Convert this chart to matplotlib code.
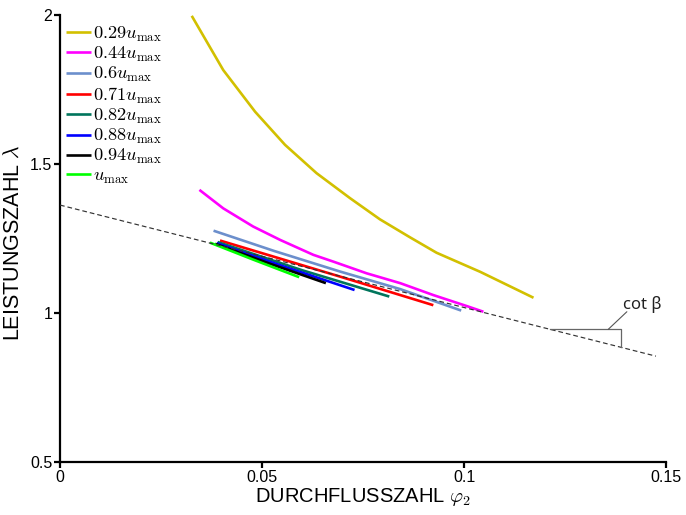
import numpy as np
import matplotlib
matplotlib.use("Agg")
import matplotlib.pyplot as plt

plt.rcParams["font.family"] = ["Liberation Sans", "DejaVu Sans"]
plt.rcParams["mathtext.fontset"] = "cm"

# ── Kennlinien: Durchflusszahl phi_2 vs. Leistungszahl lambda ────────────────

LABELS = [r"$0.29u_{\max}$", r"$0.44u_{\max}$", r"$0.6u_{\max}$", r"$0.71u_{\max}$",
          r"$0.82u_{\max}$", r"$0.88u_{\max}$", r"$0.94u_{\max}$", r"$u_{\max}$"]
COLORS = ["#d2c000", "#ff00ff", "#6c8fcc", "#ff0000",
          "#00755c", "#0000ff", "#000000", "#00ff00"]

PHI_029 = [0.0326, 0.0404, 0.0483, 0.0557, 0.0635, 0.0718, 0.0792, 0.0866, 0.0932, 0.1040, 0.1172]
LAM_029 = [1.997, 1.815, 1.675, 1.564, 1.469, 1.385, 1.314, 1.254, 1.202, 1.138, 1.051]

PHI_044 = [0.0345, 0.0404, 0.0478, 0.0545, 0.0627, 0.0677, 0.0759, 0.0842, 0.0924, 0.1007, 0.1048]
LAM_044 = [1.413, 1.351, 1.290, 1.245, 1.195, 1.172, 1.133, 1.100, 1.060, 1.023, 1.004]

PHI_060 = [0.0380, 0.0530, 0.0693, 0.0842, 0.0993]
LAM_060 = [1.276, 1.208, 1.139, 1.080, 1.008]

PHI_071 = [0.0396, 0.0693, 0.0924]
LAM_071 = [1.243, 1.122, 1.026]

PHI_082 = [0.0390, 0.0600, 0.0815]
LAM_082 = [1.238, 1.143, 1.055]

PHI_088 = [0.0388, 0.0560, 0.0729]
LAM_088 = [1.234, 1.153, 1.077]

PHI_094 = [0.0384, 0.0520, 0.0658]
LAM_094 = [1.232, 1.165, 1.100]

PHI_100 = [0.0371, 0.0480, 0.0592]
LAM_100 = [1.236, 1.178, 1.120]

SERIES = [(PHI_029, LAM_029), (PHI_044, LAM_044), (PHI_060, LAM_060), (PHI_071, LAM_071),
          (PHI_082, LAM_082), (PHI_088, LAM_088), (PHI_094, LAM_094), (PHI_100, LAM_100)]

# Ausgleichsgerade (Steigung = -cot beta)
REF_PHI = [0.0, 0.1475]
REF_LAM = [1.362, 0.855]

# Steigungsdreieck an der Geraden
COT_PHI = [0.1213, 0.1388]

# ── Figure ───────────────────────────────────────────────────────────────────

fig = plt.figure(figsize=(6.86, 5.15), dpi=100, facecolor="white")
ax = fig.add_axes([0.0875, 0.103, 0.8834, 0.868])

for (phi, lam), col, lab in zip(SERIES, COLORS, LABELS):
    ax.plot(phi, lam, color=col, linewidth=1.9, label=lab, solid_capstyle="butt", zorder=2)

ax.plot(REF_PHI, REF_LAM, color="#333333", linewidth=0.85, linestyle=(0, (4, 2.5)), zorder=3)

# cot beta Markierung
y0 = float(np.interp(COT_PHI[0], REF_PHI, REF_LAM))
y1 = float(np.interp(COT_PHI[1], REF_PHI, REF_LAM))
ax.plot([COT_PHI[0], COT_PHI[1], COT_PHI[1]], [y0, y0, y1],
        color="#666666", linewidth=0.9, zorder=3)
ax.annotate("", xy=(COT_PHI[1] - 0.0031, y0), xytext=(0.1403, 1.004),
            arrowprops=dict(arrowstyle="-", color="#555555", lw=0.8, shrinkA=0, shrinkB=0))
ax.text(0.1394, 1.013, "cot β", family=["Noto Sans", "DejaVu Sans"], fontsize=12,
        color="#222222", ha="left", va="baseline")

ax.set_xlim(0, 0.15)
ax.set_ylim(0.5, 2.0)
ax.set_xticks([0, 0.05, 0.1, 0.15])
ax.set_xticklabels(["0", "0.05", "0.1", "0.15"])
ax.set_yticks([0.5, 1, 1.5, 2])
ax.set_yticklabels(["0.5", "1", "1.5", "2"])

for side in ["top", "right"]:
    ax.spines[side].set_visible(False)
for side in ["left", "bottom"]:
    ax.spines[side].set_linewidth(1.6)
ax.tick_params(direction="out", length=4, width=1.6, labelsize=11.5, pad=1.5)

ax.set_xlabel(r"DURCHFLUSSZAHL $\varphi_2$", fontsize=14.5, labelpad=1)
ax.set_ylabel(r"LEISTUNGSZAHL $\lambda$", fontsize=15.5)
ax.yaxis.set_label_coords(-0.06, 0.49)

ax.legend(loc="upper left", bbox_to_anchor=(0.0, 0.991), frameon=False, fontsize=13.2,
          handlelength=1.4, handletextpad=0.1, labelspacing=0.065, borderaxespad=0.3,
          borderpad=0.0)

fig.savefig("out.png", dpi=100)
